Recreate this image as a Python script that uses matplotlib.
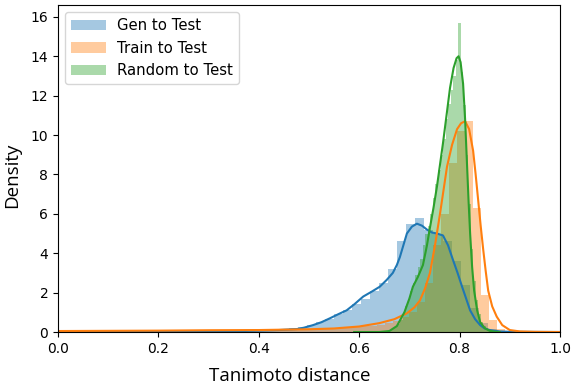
import matplotlib
matplotlib.use("Agg")
import matplotlib.pyplot as plt
import numpy as np

# histogram data: left edge of first bin, bin width, heights
gen_start, gen_width = 0.100, 0.018
gen_heights = [0.01, 0.01, 0.01, 0.01, 0.01, 0.01, 0.01, 0.02, 0.02, 0.02,
               0.02, 0.03, 0.03, 0.03, 0.04, 0.04, 0.05, 0.06, 0.08, 0.12,
               0.18, 0.25, 0.35, 0.5, 0.65, 0.9, 1.1, 1.4, 1.7, 2.1,
               2.5, 3.2, 4.6, 5.5, 5.8, 5.2, 5.0, 4.6, 3.6, 2.4,
               1.2, 0.45, 0.15, 0.05, 0.02, 0.01, 0.01, 0.01, 0.01, 0.01]

train_start, train_width = 0.011, 0.016
train_heights = [0.03, 0.03, 0.03, 0.04, 0.04, 0.04, 0.04, 0.05, 0.05, 0.05,
                 0.05, 0.05, 0.06, 0.06, 0.06, 0.06, 0.06, 0.07, 0.07, 0.08,
                 0.08, 0.09, 0.09, 0.1, 0.1, 0.1, 0.11, 0.11, 0.12, 0.12,
                 0.13, 0.14, 0.15, 0.17, 0.2, 0.22, 0.25, 0.28, 0.32, 0.38,
                 0.45, 0.55, 0.75, 1.0, 1.5, 2.5, 4.4, 6.0, 8.6, 10.2,
                 10.7, 6.3, 1.9, 0.6, 0.15, 0.05]

rand_start, rand_width = 0.647, 0.005
rand_heights = [0.05, 0.05, 0.1, 0.1, 0.2, 0.3, 0.4, 0.6, 0.9, 1.3,
                1.7, 2.1, 2.5, 2.9, 3.3, 3.7, 4.4, 5.0, 5.4, 6.0,
                6.8, 7.5, 8.2, 9.0, 9.8, 10.8, 11.6, 12.3, 13.0, 13.8,
                15.7, 13.2, 11.5, 9.0, 6.5, 4.2, 2.6, 1.6, 0.9, 0.5,
                0.3, 0.15, 0.1, 0.05, 0.03, 0.02]

# density curves
gen_kde_x = [0.0, 0.2, 0.3, 0.35, 0.4, 0.44, 0.476, 0.49, 0.508, 0.525, 0.542, 0.558,
             0.575, 0.59, 0.608, 0.625, 0.641, 0.655, 0.667, 0.675, 0.681, 0.688,
             0.695, 0.705, 0.715, 0.725, 0.735, 0.745, 0.755, 0.767, 0.777, 0.787,
             0.796, 0.805, 0.813, 0.821, 0.831, 0.841, 0.85, 0.86, 0.88, 0.9, 1.0]
gen_kde_y = [0.0, 0.01, 0.02, 0.04, 0.07, 0.1, 0.15, 0.22, 0.35, 0.5, 0.7, 0.9,
             1.1, 1.4, 1.8, 2.05, 2.3, 2.65, 3.0, 3.4, 3.8, 4.4,
             5.0, 5.35, 5.5, 5.4, 5.2, 5.05, 5.0, 4.9, 4.4, 3.65,
             3.0, 2.3, 1.7, 1.1, 0.65, 0.35, 0.18, 0.1, 0.03, 0.01, 0.0]

train_kde_x = [0.0, 0.1, 0.2, 0.3, 0.4, 0.5, 0.55, 0.6, 0.64, 0.67, 0.695, 0.71,
               0.721, 0.731, 0.741, 0.751, 0.761, 0.768, 0.775, 0.785, 0.795, 0.803,
               0.811, 0.819, 0.827, 0.832, 0.837, 0.842, 0.847, 0.852, 0.857, 0.865,
               0.874, 0.885, 0.9, 0.92, 0.95, 1.0]
train_kde_y = [0.05, 0.06, 0.07, 0.09, 0.1, 0.14, 0.18, 0.28, 0.45, 0.65, 0.95, 1.25,
               1.6, 2.2, 3.0, 4.4, 6.0, 7.2, 8.4, 9.5, 10.3, 10.6,
               10.7, 10.3, 9.2, 8.0, 6.7, 5.4, 4.2, 3.1, 2.1, 1.3,
               0.78, 0.35, 0.1, 0.03, 0.01, 0.0]

rand_kde_x = [0.59, 0.64, 0.66, 0.675, 0.69, 0.70, 0.707, 0.717, 0.727, 0.735, 0.741,
              0.748, 0.755, 0.761, 0.767, 0.774, 0.781, 0.788, 0.794, 0.798, 0.802,
              0.807, 0.811, 0.815, 0.818, 0.821, 0.825, 0.829, 0.835, 0.841, 0.85,
              0.86, 0.87, 0.88]
rand_kde_y = [0.0, 0.0, 0.05, 0.3, 1.0, 1.7, 2.3, 2.8, 3.4, 4.4, 5.3,
              6.3, 7.4, 8.5, 9.6, 11.0, 12.4, 13.4, 13.9, 14.0, 13.7,
              12.6, 10.8, 8.4, 6.6, 5.0, 3.3, 2.1, 1.1, 0.5, 0.2,
              0.06, 0.02, 0.0]

labels = ["Gen to Test", "Train to Test", "Random to Test"]
colors = ["#1f77b4", "#ff7f0e", "#2ca02c"]

fig = plt.figure(figsize=(5.77, 3.88), dpi=100)
ax = fig.add_axes([0.1005, 0.1443, 0.8700, 0.8427])

series = [
    (gen_start, gen_width, gen_heights, gen_kde_x, gen_kde_y),
    (train_start, train_width, train_heights, train_kde_x, train_kde_y),
    (rand_start, rand_width, rand_heights, rand_kde_x, rand_kde_y),
]
for (start, width, heights, kx, ky), lab, col in zip(series, labels, colors):
    lefts = start + width * np.arange(len(heights))
    ax.bar(lefts, heights, width=width, align="edge", color=col, alpha=0.4,
           linewidth=0, label=lab)
    ax.plot(kx, ky, color=col, linewidth=1.5)

ax.set_xlim(0, 1)
ax.set_ylim(0, 16.6)
ax.set_yticks(range(0, 17, 2))
ax.tick_params(labelsize=10)
ax.legend(loc="upper left", fontsize=10.7, handlelength=2.3)

# axis titles were set in a different, larger font in the original
ax.set_xlabel("Tanimoto distance", family="Open Sans", fontsize=13.5)
ax.set_ylabel("Density", family="Open Sans", fontsize=13.5)
ax.xaxis.set_label_coords(0.462, -0.135)
ax.yaxis.set_label_coords(-0.092, 0.48)
ax.xaxis.label.set_va("center")
ax.yaxis.label.set_va("center")

fig.savefig("out.png", dpi=100)
